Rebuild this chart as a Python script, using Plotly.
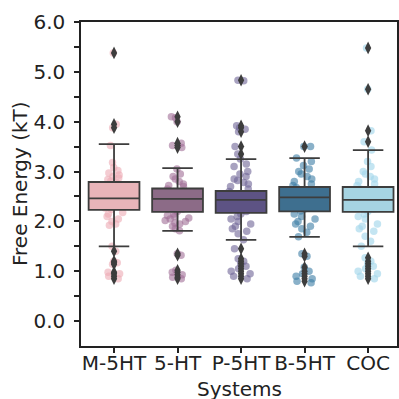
import plotly.graph_objects as go

categories = ["M-5HT", "5-HT", "P-5HT", "B-5HT", "COC"]

# box statistics
q1 = [2.23, 2.19, 2.17, 2.20, 2.19]
median = [2.46, 2.45, 2.43, 2.48, 2.43]
q3 = [2.79, 2.66, 2.61, 2.69, 2.69]
lower_whisker = [1.50, 1.81, 1.63, 1.69, 1.50]
upper_whisker = [3.55, 3.07, 3.25, 3.27, 3.43]

# outliers (fliers)
outliers = {
    "M-5HT": [5.38, 3.95, 3.88, 1.40, 1.20, 1.17, 1.14, 0.98, 0.95, 0.90, 0.85],
    "5-HT": [4.10, 4.00, 3.57, 3.52, 3.48, 1.35, 1.32, 1.02, 0.98, 0.93, 0.88, 0.85],
    "P-5HT": [4.83, 3.92, 3.88, 3.80, 3.50, 3.35, 1.45, 1.25, 1.20, 1.15, 1.10, 1.05, 1.00, 0.95, 0.90, 0.85],
    "B-5HT": [3.50, 1.35, 1.30, 1.08, 1.00, 0.95, 0.90, 0.85, 0.80],
    "COC": [5.48, 4.65, 3.82, 3.60, 1.27, 1.20, 1.15, 1.10, 1.05, 1.00, 0.95, 0.90, 0.85],
}

# all individual observations (strip points)
m5ht = [5.38, 3.95, 3.88, 3.52, 3.18, 3.08, 3.02, 2.97, 2.93, 2.90, 2.87, 2.84, 2.81,
        2.78, 2.74, 2.70, 2.65, 2.60, 2.56, 2.52, 2.50, 2.47, 2.46, 2.44, 2.42, 2.40,
        2.37, 2.34, 2.30, 2.27, 2.24, 2.18, 2.15, 2.10, 2.05, 2.00, 1.95, 1.92, 1.50,
        1.40, 1.20, 1.17, 1.14, 0.98, 0.95, 0.90, 0.85]
ht5 = [4.10, 4.08, 4.00, 3.57, 3.52, 3.48, 3.05, 2.95, 2.90, 2.85, 2.80, 2.75, 2.72,
       2.70, 2.65, 2.60, 2.55, 2.50, 2.46, 2.44, 2.40, 2.35, 2.30, 2.25, 2.20, 2.15,
       2.12, 2.10, 2.07, 2.05, 2.02, 2.00, 1.97, 1.95, 1.90, 1.85, 1.81, 1.35, 1.32,
       1.02, 0.98, 0.93, 0.88, 0.85]
p5ht = [4.83, 4.82, 3.92, 3.88, 3.85, 3.80, 3.50, 3.35, 3.25, 3.15, 3.10, 3.00, 2.95,
        2.90, 2.85, 2.82, 2.78, 2.75, 2.70, 2.65, 2.60, 2.55, 2.50, 2.45, 2.43, 2.40,
        2.35, 2.30, 2.25, 2.20, 2.15, 2.10, 2.05, 2.00, 1.95, 1.90, 1.85, 1.80, 1.75,
        1.63, 1.45, 1.25, 1.20, 1.15, 1.10, 1.05, 1.00, 0.95, 0.90, 0.85]
b5ht = [3.50, 3.50, 3.27, 3.20, 3.12, 3.05, 3.00, 2.95, 2.90, 2.85, 2.80, 2.75, 2.72,
        2.68, 2.62, 2.55, 2.50, 2.48, 2.45, 2.40, 2.35, 2.30, 2.25, 2.21, 2.15, 2.10,
        2.05, 2.00, 1.95, 1.90, 1.85, 1.78, 1.69, 1.35, 1.30, 1.08, 1.00, 0.95, 0.90,
        0.85, 0.80, 0.77]
coc = [5.48, 4.65, 3.82, 3.60, 3.43, 3.20, 3.10, 3.00, 2.95, 2.90, 2.85, 2.80, 2.75,
       2.72, 2.65, 2.58, 2.50, 2.45, 2.43, 2.40, 2.35, 2.30, 2.25, 2.20, 2.15, 2.10,
       2.05, 1.95, 1.90, 1.85, 1.80, 1.70, 1.60, 1.50, 1.27, 1.20, 1.15, 1.10, 1.05,
       1.00, 0.95, 0.90, 0.85]
observations = [m5ht, ht5, p5ht, b5ht, coc]

box_colors = ["#e8b4b9", "#8c6b87", "#5d5384", "#3e6f8f", "#a6d4e2"]
point_colors = ["rgba(236,170,180,0.6)", "rgba(160,110,150,0.6)", "rgba(110,100,150,0.6)",
                "rgba(60,125,165,0.6)", "rgba(165,215,235,0.65)"]

y_ticks = [0.0, 0.5, 1.0, 1.5, 2.0, 2.5, 3.0, 3.5, 4.0, 4.5, 5.0, 5.5, 6.0]
y_labels = [f"{v:.1f}" if v == int(v) else "" for v in y_ticks]

FONT = "DejaVu Sans"
EDGE = "#3d3d3d"
INK = "#222222"

fig = go.Figure()

# strip points on the base axes (drawn underneath)
for cat, vals, pc in zip(categories, observations, point_colors):
    fig.add_trace(go.Box(
        x=[cat] * len(vals), y=vals, boxpoints="all", jitter=0.5, pointpos=0,
        width=0.8, fillcolor="rgba(0,0,0,0)", line=dict(color="rgba(0,0,0,0)", width=0),
        marker=dict(color=pc, size=7.5, line=dict(width=0)),
        xaxis="x", yaxis="y", showlegend=False, hoverinfo="skip",
    ))

# boxes on overlaying axes (drawn on top of the points)
for i, cat in enumerate(categories):
    fig.add_trace(go.Box(
        x=[cat], q1=[q1[i]], median=[median[i]], q3=[q3[i]],
        lowerfence=[lower_whisker[i]], upperfence=[upper_whisker[i]],
        width=0.8, whiskerwidth=0.6, fillcolor=box_colors[i],
        line=dict(color=EDGE, width=1.8), boxpoints=False,
        xaxis="x2", yaxis="y2", showlegend=False,
    ))

# outliers as dark diamonds
for cat in categories:
    vals = outliers[cat]
    fig.add_trace(go.Scatter(
        x=[cat] * len(vals), y=vals, mode="markers",
        marker=dict(symbol="diamond-tall", size=9, color=EDGE, line=dict(width=0)),
        xaxis="x2", yaxis="y2", showlegend=False,
    ))

xr = [-0.52, 4.455]
yr = [-0.5, 6.0]
axis_common = dict(showgrid=False, zeroline=False, automargin=False)

W, H = 399, 399
L, R, T, B = 81, 2, 22, 53
pw, ph = W - L - R, H - T - B


def paper_x(px):
    return (px - L) / pw


def paper_y(py):
    return (H - B - py) / ph


fig.update_layout(
    width=W, height=H,
    margin=dict(l=L, r=R, t=T, b=B),
    paper_bgcolor="white", plot_bgcolor="white",
    font=dict(family=FONT, size=20, color=INK),
    xaxis=dict(
        type="category", categoryorder="array", categoryarray=categories,
        range=xr, ticks="outside", ticklen=5, tickwidth=1.5, tickcolor=INK,
        showline=True, linecolor=INK, linewidth=1.5, mirror=True,
        tickfont=dict(size=20), ticklabelstandoff=-7, **axis_common,
    ),
    yaxis=dict(
        range=yr, tickvals=y_ticks, ticktext=y_labels, ticks="outside",
        ticklen=5, tickwidth=1.5, tickcolor=INK,
        showline=True, linecolor=INK, linewidth=1.5, mirror=True,
        tickfont=dict(size=20), ticklabelstandoff=5, **axis_common,
    ),
    xaxis2=dict(
        type="category", categoryorder="array", categoryarray=categories,
        range=xr, overlaying="x", visible=False, **axis_common,
    ),
    yaxis2=dict(range=yr, overlaying="y", visible=False, **axis_common),
    boxmode="overlay",
    annotations=[
        dict(text="Free Energy (kT)", x=paper_x(20), y=paper_y(184),
             xref="paper", yref="paper", showarrow=False, textangle=-90,
             font=dict(size=20, color=INK), xanchor="center", yanchor="middle"),
        dict(text="Systems", x=paper_x(239), y=paper_y(389),
             xref="paper", yref="paper", showarrow=False,
             font=dict(size=20, color=INK), xanchor="center", yanchor="middle"),
    ],
)

fig.write_html(
    "out.html",
    config={"displayModeBar": False},
    post_script="document.body.style.margin='0';document.body.style.overflow='hidden';",
)
